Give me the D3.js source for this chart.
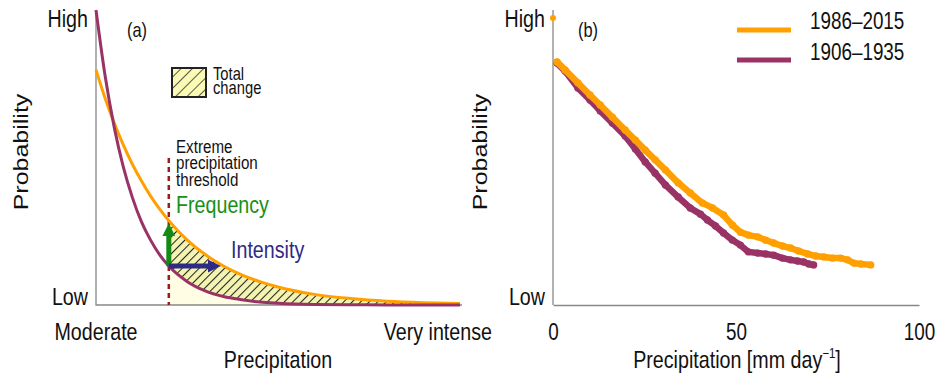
<!DOCTYPE html>
<html lang="en">
<head>
<meta charset="utf-8">
<title>Precipitation probability</title>
<script src="https://d3js.org/d3.v7.min.js"></script>
<style>
  body { margin: 0; background: #fff; }
  svg { display: block; }
  text { font-family: "Liberation Sans", Arial, sans-serif; fill: #111; }
</style>
</head>
<body>
<svg id="chart" width="939" height="378"></svg>
<script>
// ---- panel (a): conceptual distributions (0 = moderate, 100 = very intense)
var aX      = [0, 2.5, 5, 7.5, 10, 12.5, 15, 17.5, 20, 25, 30, 35, 40, 45, 50, 60, 70, 80, 90, 100];
var aPast   = [100, 77.7, 60.3, 46.8, 36.4, 28.2, 22.0, 17.0, 13.2, 8.0, 4.8, 2.9, 1.8, 1.0, 0.6, 0.2, 0.1, 0, 0, 0];
var aRecent = [79.7, 70.1, 61.7, 54.3, 47.7, 42.0, 36.9, 32.5, 28.6, 22.1, 17.1, 13.2, 10.2, 7.9, 6.1, 3.6, 2.2, 1.3, 0.8, 0.5];
var threshold = 20;      // extreme precipitation threshold
var intensityEnd = 35;   // where the recent curve drops to the old threshold probability

// ---- panel (b): observed distributions, precipitation in mm/day
var recentX = [1.1, 3.3, 6.8, 10.1, 12.9, 16.2, 19.7, 22.5, 25.2, 27.9, 30.7, 34.2, 37.5, 40.8, 43.6, 46.6, 49.0, 51.2, 53.4, 55.9, 58.1, 60.3, 62.7, 64.9, 67.1, 69.6, 71.8, 74.0, 76.4, 78.6, 80.5, 82.2, 84.1, 86.8];
var recentY = [82.4, 79.7, 75.3, 71.2, 67.8, 63.7, 59.3, 55.9, 52.5, 49.2, 45.8, 41.4, 38.0, 34.6, 32.9, 30.5, 27.1, 24.7, 23.7, 23.1, 22.0, 21.0, 20.0, 19.3, 18.3, 17.3, 16.6, 16.3, 15.9, 15.9, 15.3, 14.2, 13.9, 13.6];
var pastX   = [1.1, 3.3, 6.8, 10.1, 12.9, 16.2, 19.7, 22.5, 25.2, 27.9, 30.7, 34.2, 37.5, 40.3, 42.2, 44.4, 46.6, 49.0, 51.2, 53.4, 55.9, 58.1, 60.3, 62.7, 64.9, 66.8, 68.5, 69.9, 71.2];
var pastY   = [82.0, 79.3, 73.6, 69.5, 65.8, 61.7, 57.3, 52.9, 48.5, 44.7, 40.7, 36.6, 32.9, 30.8, 28.8, 26.8, 24.4, 22.0, 20.3, 18.0, 17.6, 17.3, 16.9, 15.9, 15.3, 14.9, 14.6, 13.9, 13.6];
var recentDryX = [0];
var recentDryY = [97.3];
var xTicksB = [0, 50, 100];
var seriesLabels = ["1986\u20132015", "1906\u20131935"];

var colRecent = "#ffa000", colPast = "#993366";
var SQ = 0.82; // horizontal squeeze of the original lettering

var svg = d3.select("#chart");

// squeezed text helper
function label(x, y, str, size, anchor, color, rot) {
  var t = svg.append("text")
    .attr("transform", "translate(" + x + "," + y + ") scale(" + SQ + ",1)" + (rot ? " rotate(-90)" : ""))
    .attr("font-size", size)
    .attr("text-anchor", anchor || "start")
    .text(str);
  if (color) t.style("fill", color);
  return t;
}
// stacked lines in one text element
function block(x, y, lines, size, step) {
  var t = svg.append("text")
    .attr("transform", "translate(" + x + "," + y + ") scale(" + SQ + ",1)")
    .attr("font-size", size);
  lines.forEach(function(s, i) {
    t.append("tspan").attr("x", 0).attr("y", i * step).text(s);
  });
  return t;
}

var defs = svg.append("defs");
defs.append("pattern").attr("id", "hatch").attr("patternUnits", "userSpaceOnUse")
    .attr("width", 6).attr("height", 6).attr("patternTransform", "rotate(45)")
  .call(function(p) {
    p.append("rect").attr("width", 6).attr("height", 6).attr("fill", "#f4f4b2");
    p.append("line").attr("x1", 0.5).attr("y1", 0).attr("x2", 0.5).attr("y2", 6)
      .attr("stroke", "#222").attr("stroke-width", 1.1);
  });
defs.append("pattern").attr("id", "hatchBig").attr("patternUnits", "userSpaceOnUse")
    .attr("width", 8).attr("height", 8).attr("patternTransform", "rotate(45)")
  .call(function(p) {
    p.append("rect").attr("width", 8).attr("height", 8).attr("fill", "#fbfbb4");
    p.append("line").attr("x1", 0.5).attr("y1", 0).attr("x2", 0.5).attr("y2", 8)
      .attr("stroke", "#444").attr("stroke-width", 0.9);
  });
function arrowMarker(id, color) {
  defs.append("marker").attr("id", id).attr("viewBox", "0 0 10 10")
    .attr("refX", 2).attr("refY", 5).attr("markerUnits", "userSpaceOnUse")
    .attr("markerWidth", 13).attr("markerHeight", 13).attr("orient", "auto")
    .append("path").attr("d", "M0,0L10,5L0,10z").attr("fill", color);
}
arrowMarker("arrGreen", "#138a13");
arrowMarker("arrBlue", "#2e2a88");

// ================= panel (a) =================
var xA = d3.scaleLinear().domain([0, 100]).range([96, 460]);
var yA = d3.scaleLinear().domain([0, 100]).range([305, 10]);
var aData = aX.map(function(x, i) { return { x: x, past: aPast[i], recent: aRecent[i] }; });
var aTail = aData.filter(function(d) { return d.x >= threshold; });

svg.append("path").datum(aTail)
  .attr("fill", "#fffde3")
  .attr("d", d3.area().curve(d3.curveMonotoneX)
    .x(function(d) { return xA(d.x); }).y0(yA(0)).y1(function(d) { return yA(d.past); }));
svg.append("path").datum(aTail)
  .attr("fill", "url(#hatch)")
  .attr("d", d3.area().curve(d3.curveMonotoneX)
    .x(function(d) { return xA(d.x); })
    .y0(function(d) { return yA(d.past); }).y1(function(d) { return yA(d.recent); }));

// axes (a)
svg.append("path").attr("d", "M" + xA(0) + "," + yA(100) + "V" + yA(0) + "H" + (xA(100) + 2))
  .attr("fill", "none").attr("stroke", "#888").attr("stroke-width", 1.3);

// threshold line
svg.append("line")
  .attr("x1", xA(threshold)).attr("x2", xA(threshold))
  .attr("y1", 158).attr("y2", yA(0))
  .attr("stroke", "#9e1b1b").attr("stroke-width", 2.5).attr("stroke-dasharray", "5,4");

// curves (a)
svg.append("path").datum(aData)
  .attr("fill", "none").attr("stroke", colRecent).attr("stroke-width", 3)
  .attr("d", d3.line().curve(d3.curveMonotoneX).x(function(d) { return xA(d.x); }).y(function(d) { return yA(d.recent); }));
svg.append("path").datum(aData)
  .attr("fill", "none").attr("stroke", colPast).attr("stroke-width", 3)
  .attr("d", d3.line().curve(d3.curveMonotoneX).x(function(d) { return xA(d.x); }).y(function(d) { return yA(d.past); }));

// arrows
var thrPast = aPast[aX.indexOf(threshold)], thrRecent = aRecent[aX.indexOf(threshold)];
svg.append("line")
  .attr("x1", xA(threshold)).attr("x2", xA(threshold))
  .attr("y1", yA(thrPast)).attr("y2", yA(thrRecent) + 13)
  .attr("stroke", "#138a13").attr("stroke-width", 5).attr("marker-end", "url(#arrGreen)");
svg.append("line")
  .attr("x1", xA(threshold)).attr("x2", xA(intensityEnd) - 13)
  .attr("y1", yA(thrPast)).attr("y2", yA(thrPast))
  .attr("stroke", "#2e2a88").attr("stroke-width", 5).attr("marker-end", "url(#arrBlue)");

// legend box "Total change"
svg.append("rect").attr("x", 172).attr("y", 68).attr("width", 34).attr("height", 29)
  .attr("fill", "url(#hatchBig)").attr("stroke", "#222").attr("stroke-width", 2);
block(213, 80, ["Total", "change"], 18, 14);

// texts (a)
label(88, 27, "High", 24, "end");
label(88, 305, "Low", 24, "end");
label(127, 37, "(a)", 20);
label(28, 152, "Probability", 25, "middle", null, true);
block(176, 153, ["Extreme", "precipitation", "threshold"], 18.5, 16.5);
label(176, 213, "Frequency", 24, "start", "#179117");
label(231, 258, "Intensity", 24, "start", "#2e2a88");
label(xA(0), 340, "Moderate", 24, "middle");
label(xA(100) + 32, 340, "Very intense", 24, "end");
label(278, 368, "Precipitation", 24, "middle");

// ================= panel (b) =================
var xB = d3.scaleLinear().domain([0, 100]).range([553, 919]);
var yB = d3.scaleLinear().domain([0, 100]).range([305, 10]);

svg.append("line").attr("x1", xB(0)).attr("x2", xB(0)).attr("y1", yB(100)).attr("y2", yB(0))
  .attr("stroke", "#888").attr("stroke-width", 1.3);

var axB = svg.append("g")
  .attr("transform", "translate(0," + yB(0) + ")")
  .call(d3.axisBottom(xB).tickValues(xTicksB).tickSize(0).tickPadding(0).tickFormat(d3.format("d")));
axB.select(".domain").attr("stroke", "#888").attr("stroke-width", 1.3);
axB.selectAll("text")
  .attr("y", 35).attr("dy", 0)
  .attr("transform", "scale(" + SQ + ",1)")
  .attr("font-size", 23)
  .style("font-family", "'Liberation Sans', Arial, sans-serif")
  .style("fill", "#111");

function series(xs, ys, color) {
  var pts = xs.map(function(x, i) { return [xB(x), yB(ys[i])]; });
  svg.append("path").datum(pts)
    .attr("fill", "none").attr("stroke", color).attr("stroke-width", 6.5)
    .attr("stroke-linecap", "round").attr("stroke-linejoin", "round")
    .attr("d", d3.line());
  svg.append("g").selectAll("circle").data(pts).enter().append("circle")
    .attr("cx", function(d) { return d[0]; }).attr("cy", function(d) { return d[1]; })
    .attr("r", 3.7).attr("fill", color);
}
series(pastX, pastY, colPast);
series(recentX, recentY, colRecent);
svg.append("circle").attr("cx", xB(recentDryX[0])).attr("cy", yB(recentDryY[0])).attr("r", 3).attr("fill", colRecent);

// legend (b)
[colRecent, colPast].forEach(function(c, i) {
  var y = 30 + i * 30;
  svg.append("line").attr("x1", 737).attr("x2", 791).attr("y1", y).attr("y2", y)
    .attr("stroke", c).attr("stroke-width", 5);
  label(810, 29 + i * 31, seriesLabels[i], 23);
});

label(545, 27, "High", 24, "end");
label(545, 305, "Low", 24, "end");
label(578, 37, "(b)", 20);
label(487, 152, "Probability", 25, "middle", null, true);
var xl = label(737, 368, "Precipitation [mm day", 24, "middle");
xl.append("tspan").attr("font-size", 14).attr("dy", -10).text("\u22121");
xl.append("tspan").attr("dy", 10).text("]");
</script>
</body>
</html>
